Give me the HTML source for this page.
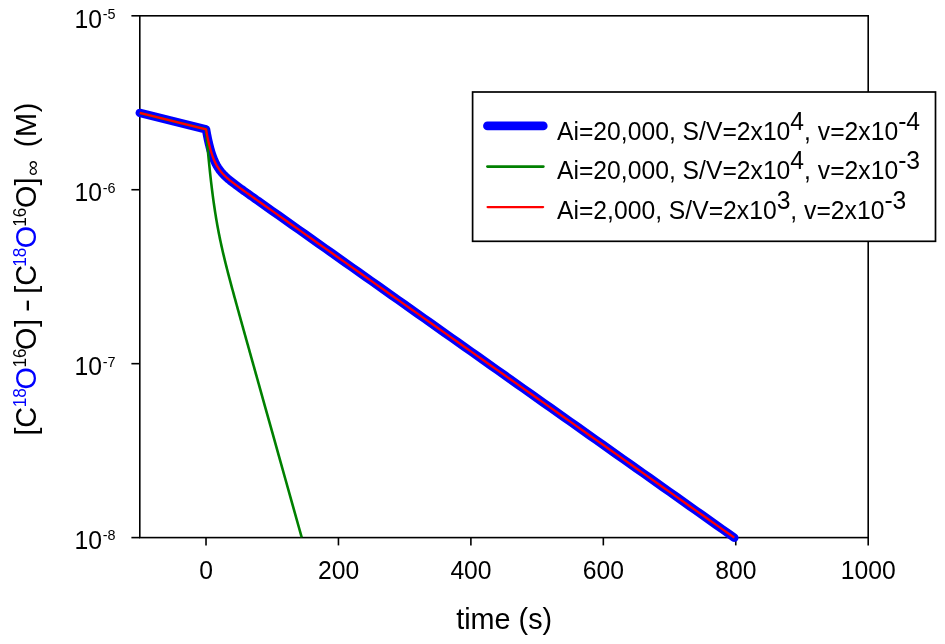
<!DOCTYPE html>
<html><head><meta charset="utf-8"><title>time (s)</title>
<style>html,body{margin:0;padding:0;background:#fff}svg{display:block}text{font-family:"Liberation Sans",sans-serif;fill:#000}</style></head>
<body>
<svg width="945" height="644" viewBox="0 0 945 644">
<rect x="0" y="0" width="945" height="644" fill="#fff"/>
<g stroke="#000" stroke-width="1.6" fill="none" stroke-linecap="butt">
<rect x="139.8" y="15.8" width="728.4" height="521.8"/>
<line x1="131.4" y1="15.80" x2="139.8" y2="15.80"/>
<line x1="131.4" y1="189.73" x2="139.8" y2="189.73"/>
<line x1="131.4" y1="363.67" x2="139.8" y2="363.67"/>
<line x1="131.4" y1="537.60" x2="139.8" y2="537.60"/>
<line x1="206.02" y1="537.6" x2="206.02" y2="545.4"/>
<line x1="338.45" y1="537.6" x2="338.45" y2="545.4"/>
<line x1="470.89" y1="537.6" x2="470.89" y2="545.4"/>
<line x1="603.33" y1="537.6" x2="603.33" y2="545.4"/>
<line x1="735.76" y1="537.6" x2="735.76" y2="545.4"/>
<line x1="868.20" y1="537.6" x2="868.20" y2="545.4"/>
</g>
<path d="M139.80 112.90 L206.02 129.30 L206.35 131.16 L206.68 132.96 L207.01 134.69 L207.34 136.37 L207.67 138.00 L208.00 139.56 L208.34 141.07 L208.67 142.53 L209.00 143.93 L209.33 145.29 L209.66 146.59 L209.99 147.85 L210.32 149.06 L210.65 150.23 L210.98 151.35 L211.32 152.43 L211.65 153.47 L211.98 154.48 L212.31 155.44 L212.64 156.37 L212.97 157.27 L213.30 158.13 L213.63 158.96 L213.96 159.77 L214.30 160.54 L214.63 161.28 L214.96 162.00 L215.29 162.70 L215.62 163.37 L215.95 164.01 L216.28 164.64 L216.61 165.24 L216.94 165.83 L217.28 166.40 L217.61 166.94 L217.94 167.48 L218.27 167.99 L218.60 168.49 L218.93 168.98 L219.26 169.45 L219.59 169.91 L219.92 170.35 L220.26 170.79 L220.59 171.21 L220.92 171.63 L221.25 172.03 L221.58 172.42 L221.91 172.81 L222.24 173.19 L222.57 173.55 L222.90 173.92 L223.23 174.27 L223.57 174.62 L223.90 174.96 L224.23 175.29 L224.56 175.62 L224.89 175.95 L225.22 176.26 L225.55 176.58 L225.88 176.89 L226.21 177.19 L226.55 177.49 L226.88 177.79 L227.21 178.09 L227.54 178.38 L227.87 178.66 L228.20 178.95 L228.53 179.23 L228.86 179.51 L229.19 179.78 L229.53 180.06 L229.86 180.33 L230.19 180.60 L230.52 180.86 L230.85 181.13 L231.18 181.39 L231.51 181.66 L231.84 181.92 L232.17 182.17 L232.51 182.43 L232.84 182.69 L233.17 182.94 L233.50 183.20 L233.83 183.45 L234.16 183.70 L234.49 183.95 L234.82 184.20 L235.15 184.45 L235.49 184.70 L235.82 184.94 L236.15 185.19 L236.48 185.43 L236.81 185.68 L237.14 185.92 L237.47 186.17 L237.80 186.41 L238.13 186.65 L238.47 186.90 L238.80 187.14 L239.13 187.38 L239.46 187.62 L239.79 187.86 L240.12 188.10 L240.45 188.34 L240.78 188.58 L241.11 188.82 L241.44 189.06 L241.78 189.30 L242.11 189.53 L242.44 189.77 L242.77 190.01 L243.10 190.25 L243.43 190.49 L243.76 190.72 L244.09 190.96 L244.42 191.20 L244.76 191.43 L245.09 191.67 L245.42 191.91 L245.75 192.14 L246.08 192.38 L246.41 192.61 L246.74 192.85 L247.07 193.09 L247.40 193.32 L247.74 193.56 L248.07 193.79 L248.40 194.03 L248.73 194.26 L249.06 194.50 L249.39 194.73 L249.72 194.97 L250.05 195.21 L250.38 195.44 L250.72 195.68 L251.05 195.91 L251.38 196.15 L251.71 196.38 L252.04 196.62 L252.37 196.85 L252.70 197.08 L253.03 197.32 L253.36 197.55 L253.70 197.79 L254.03 198.02 L254.36 198.26 L254.69 198.49 L255.02 198.73 L255.35 198.96 L255.68 199.20 L256.01 199.43 L256.34 199.67 L256.68 199.90 L257.01 200.13 L257.34 200.37 L257.67 200.60 L258.00 200.84 L258.33 201.07 L258.66 201.31 L258.99 201.54 L265.61 206.23 L272.24 210.91 L278.86 215.59 L285.48 220.28 L292.10 224.96 L298.72 229.64 L305.35 234.32 L311.97 239.01 L318.59 243.69 L325.21 248.37 L331.83 253.06 L338.45 257.74 L345.08 262.42 L351.70 267.10 L358.32 271.79 L364.94 276.47 L371.56 281.15 L378.19 285.84 L384.81 290.52 L391.43 295.20 L398.05 299.89 L404.67 304.57 L411.29 309.25 L417.92 313.93 L424.54 318.62 L431.16 323.30 L437.78 327.98 L444.40 332.67 L451.03 337.35 L457.65 342.03 L464.27 346.72 L470.89 351.40 L477.51 356.08 L484.13 360.76 L490.76 365.45 L497.38 370.13 L504.00 374.81 L510.62 379.50 L517.24 384.18 L523.87 388.86 L530.49 393.54 L537.11 398.23 L543.73 402.91 L550.35 407.59 L556.97 412.28 L563.60 416.96 L570.22 421.64 L576.84 426.33 L583.46 431.01 L590.08 435.69 L596.71 440.37 L603.33 445.06 L609.95 449.74 L616.57 454.42 L623.19 459.11 L629.81 463.79 L636.44 468.47 L643.06 473.15 L649.68 477.84 L656.30 482.52 L662.92 487.20 L669.55 491.89 L676.17 496.57 L682.79 501.25 L689.41 505.94 L696.03 510.62 L702.65 515.30 L709.28 519.98 L715.90 524.67 L722.52 529.35 L729.14 534.03 L734.30 537.68" fill="none" stroke="#0000ff" stroke-width="8.5" stroke-linecap="round" stroke-linejoin="round"/>
<path d="M139.80 112.90 L206.02 129.30 L206.35 133.29 L206.68 137.20 L207.01 141.04 L207.34 144.80 L207.67 148.48 L208.00 152.08 L208.34 155.60 L208.67 159.05 L209.00 162.42 L209.33 165.71 L209.66 168.92 L209.99 172.06 L210.32 175.12 L210.65 178.12 L210.98 181.03 L211.32 183.88 L211.65 186.66 L211.98 189.37 L212.31 192.01 L212.64 194.59 L212.97 197.10 L213.30 199.55 L213.63 201.95 L213.96 204.28 L214.30 206.56 L214.63 208.79 L214.96 210.96 L215.29 213.09 L215.62 215.17 L215.95 217.20 L216.28 219.18 L216.61 221.13 L216.94 223.03 L217.28 224.90 L217.61 226.73 L217.94 228.52 L218.27 230.28 L218.60 232.01 L218.93 233.70 L219.26 235.37 L219.59 237.01 L219.92 238.63 L220.26 240.22 L220.59 241.79 L220.92 243.33 L221.25 244.85 L221.58 246.36 L221.91 247.84 L222.24 249.31 L222.57 250.76 L222.90 252.19 L223.23 253.61 L223.57 255.02 L223.90 256.41 L224.23 257.79 L224.56 259.16 L224.89 260.51 L225.22 261.86 L225.55 263.20 L225.88 264.52 L226.21 265.84 L226.55 267.15 L226.88 268.45 L227.21 269.75 L227.54 271.04 L227.87 272.32 L228.20 273.59 L228.53 274.86 L228.86 276.13 L229.19 277.39 L229.53 278.64 L229.86 279.89 L230.19 281.14 L230.52 282.38 L230.85 283.62 L231.18 284.85 L231.51 286.08 L231.84 287.31 L232.17 288.54 L232.51 289.76 L232.84 290.98 L233.17 292.20 L233.50 293.41 L233.83 294.63 L234.16 295.84 L234.49 297.05 L234.82 298.26 L235.15 299.46 L235.49 300.67 L235.82 301.87 L236.15 303.07 L236.48 304.27 L236.81 305.47 L237.14 306.67 L237.47 307.87 L237.80 309.07 L238.13 310.26 L238.47 311.46 L238.80 312.65 L239.13 313.84 L239.46 315.04 L239.79 316.23 L240.12 317.42 L240.45 318.61 L240.78 319.80 L241.11 320.99 L241.44 322.18 L241.78 323.37 L242.11 324.56 L242.44 325.75 L242.77 326.93 L243.10 328.12 L243.43 329.31 L243.76 330.49 L244.09 331.68 L244.42 332.87 L244.76 334.05 L245.09 335.24 L245.42 336.42 L245.75 337.61 L246.08 338.79 L246.41 339.98 L246.74 341.16 L247.07 342.35 L247.40 343.53 L247.74 344.72 L248.07 345.90 L248.40 347.08 L248.73 348.27 L249.06 349.45 L249.39 350.63 L249.72 351.82 L250.05 353.00 L250.38 354.18 L250.72 355.37 L251.05 356.55 L251.38 357.73 L251.71 358.92 L252.04 360.10 L252.37 361.28 L252.70 362.46 L253.03 363.65 L253.36 364.83 L253.70 366.01 L254.03 367.20 L254.36 368.38 L254.69 369.56 L255.02 370.74 L255.35 371.93 L255.68 373.11 L256.01 374.29 L256.34 375.47 L256.68 376.66 L257.01 377.84 L257.34 379.02 L257.67 380.20 L258.00 381.38 L258.33 382.57 L258.66 383.75 L258.99 384.93 L265.61 408.57 L272.24 432.21 L278.86 455.85 L285.48 479.49 L292.10 503.13 L298.72 526.77 L301.70 537.40" fill="none" stroke="#008000" stroke-width="2.6" stroke-linecap="butt" stroke-linejoin="round"/>
<path d="M139.80 112.90 L206.02 129.30 L206.35 131.16 L206.68 132.96 L207.01 134.69 L207.34 136.37 L207.67 138.00 L208.00 139.56 L208.34 141.07 L208.67 142.53 L209.00 143.93 L209.33 145.29 L209.66 146.59 L209.99 147.85 L210.32 149.06 L210.65 150.23 L210.98 151.35 L211.32 152.43 L211.65 153.47 L211.98 154.48 L212.31 155.44 L212.64 156.37 L212.97 157.27 L213.30 158.13 L213.63 158.96 L213.96 159.77 L214.30 160.54 L214.63 161.28 L214.96 162.00 L215.29 162.70 L215.62 163.37 L215.95 164.01 L216.28 164.64 L216.61 165.24 L216.94 165.83 L217.28 166.40 L217.61 166.94 L217.94 167.48 L218.27 167.99 L218.60 168.49 L218.93 168.98 L219.26 169.45 L219.59 169.91 L219.92 170.35 L220.26 170.79 L220.59 171.21 L220.92 171.63 L221.25 172.03 L221.58 172.42 L221.91 172.81 L222.24 173.19 L222.57 173.55 L222.90 173.92 L223.23 174.27 L223.57 174.62 L223.90 174.96 L224.23 175.29 L224.56 175.62 L224.89 175.95 L225.22 176.26 L225.55 176.58 L225.88 176.89 L226.21 177.19 L226.55 177.49 L226.88 177.79 L227.21 178.09 L227.54 178.38 L227.87 178.66 L228.20 178.95 L228.53 179.23 L228.86 179.51 L229.19 179.78 L229.53 180.06 L229.86 180.33 L230.19 180.60 L230.52 180.86 L230.85 181.13 L231.18 181.39 L231.51 181.66 L231.84 181.92 L232.17 182.17 L232.51 182.43 L232.84 182.69 L233.17 182.94 L233.50 183.20 L233.83 183.45 L234.16 183.70 L234.49 183.95 L234.82 184.20 L235.15 184.45 L235.49 184.70 L235.82 184.94 L236.15 185.19 L236.48 185.43 L236.81 185.68 L237.14 185.92 L237.47 186.17 L237.80 186.41 L238.13 186.65 L238.47 186.90 L238.80 187.14 L239.13 187.38 L239.46 187.62 L239.79 187.86 L240.12 188.10 L240.45 188.34 L240.78 188.58 L241.11 188.82 L241.44 189.06 L241.78 189.30 L242.11 189.53 L242.44 189.77 L242.77 190.01 L243.10 190.25 L243.43 190.49 L243.76 190.72 L244.09 190.96 L244.42 191.20 L244.76 191.43 L245.09 191.67 L245.42 191.91 L245.75 192.14 L246.08 192.38 L246.41 192.61 L246.74 192.85 L247.07 193.09 L247.40 193.32 L247.74 193.56 L248.07 193.79 L248.40 194.03 L248.73 194.26 L249.06 194.50 L249.39 194.73 L249.72 194.97 L250.05 195.21 L250.38 195.44 L250.72 195.68 L251.05 195.91 L251.38 196.15 L251.71 196.38 L252.04 196.62 L252.37 196.85 L252.70 197.08 L253.03 197.32 L253.36 197.55 L253.70 197.79 L254.03 198.02 L254.36 198.26 L254.69 198.49 L255.02 198.73 L255.35 198.96 L255.68 199.20 L256.01 199.43 L256.34 199.67 L256.68 199.90 L257.01 200.13 L257.34 200.37 L257.67 200.60 L258.00 200.84 L258.33 201.07 L258.66 201.31 L258.99 201.54 L265.61 206.23 L272.24 210.91 L278.86 215.59 L285.48 220.28 L292.10 224.96 L298.72 229.64 L305.35 234.32 L311.97 239.01 L318.59 243.69 L325.21 248.37 L331.83 253.06 L338.45 257.74 L345.08 262.42 L351.70 267.10 L358.32 271.79 L364.94 276.47 L371.56 281.15 L378.19 285.84 L384.81 290.52 L391.43 295.20 L398.05 299.89 L404.67 304.57 L411.29 309.25 L417.92 313.93 L424.54 318.62 L431.16 323.30 L437.78 327.98 L444.40 332.67 L451.03 337.35 L457.65 342.03 L464.27 346.72 L470.89 351.40 L477.51 356.08 L484.13 360.76 L490.76 365.45 L497.38 370.13 L504.00 374.81 L510.62 379.50 L517.24 384.18 L523.87 388.86 L530.49 393.54 L537.11 398.23 L543.73 402.91 L550.35 407.59 L556.97 412.28 L563.60 416.96 L570.22 421.64 L576.84 426.33 L583.46 431.01 L590.08 435.69 L596.71 440.37 L603.33 445.06 L609.95 449.74 L616.57 454.42 L623.19 459.11 L629.81 463.79 L636.44 468.47 L643.06 473.15 L649.68 477.84 L656.30 482.52 L662.92 487.20 L669.55 491.89 L676.17 496.57 L682.79 501.25 L689.41 505.94 L696.03 510.62 L702.65 515.30 L709.28 519.98 L715.90 524.67 L722.52 529.35 L729.14 534.03 L734.30 537.68" fill="none" stroke="#ff0000" stroke-width="2.3" stroke-linecap="butt" stroke-linejoin="round"/>
<text transform="translate(74.6 27.50) scale(1 1.040)" font-size="24.7">10<tspan font-size="14.4" dy="-7.8" dx="0.6">-5</tspan></text>
<text transform="translate(74.6 201.43) scale(1 1.040)" font-size="24.7">10<tspan font-size="14.4" dy="-7.8" dx="0.6">-6</tspan></text>
<text transform="translate(74.6 375.37) scale(1 1.040)" font-size="24.7">10<tspan font-size="14.4" dy="-7.8" dx="0.6">-7</tspan></text>
<text transform="translate(74.6 548.50) scale(1 1.040)" font-size="24.7">10<tspan font-size="14.4" dy="-7.8" dx="0.6">-8</tspan></text>
<text transform="translate(206.12 579.4) scale(1 1.040)" font-size="24.7" text-anchor="middle">0</text>
<text transform="translate(338.55 579.4) scale(1 1.040)" font-size="24.7" text-anchor="middle">200</text>
<text transform="translate(470.99 579.4) scale(1 1.040)" font-size="24.7" text-anchor="middle">400</text>
<text transform="translate(603.43 579.4) scale(1 1.040)" font-size="24.7" text-anchor="middle">600</text>
<text transform="translate(735.86 579.4) scale(1 1.040)" font-size="24.7" text-anchor="middle">800</text>
<text transform="translate(868.30 579.4) scale(1 1.040)" font-size="24.7" text-anchor="middle">1000</text>
<text transform="translate(504.2 628.6) scale(1 1.040)" font-size="28.8" text-anchor="middle">time (s)</text>
<text transform="translate(35.80 0) rotate(-90) scale(1 1.040)" font-size="28.8" xml:space="preserve"><tspan x="-435.61" y="0.00" font-size="28.8">[</tspan><tspan x="-427.63" y="0.00" font-size="28.8">C</tspan><tspan x="-407.30" y="-9.52" font-size="17.2" style="fill:#0000ff">18</tspan><tspan x="-389.39" y="0.00" font-size="28.8" style="fill:#0000ff">O</tspan><tspan x="-367.59" y="-9.52" font-size="17.2">16</tspan><tspan x="-349.89" y="0.00" font-size="28.8">O</tspan><tspan x="-326.94" y="0.00" font-size="28.8">]</tspan> <tspan x="-312.21" y="0.00" font-size="28.8" textLength="13.43" lengthAdjust="spacingAndGlyphs">-</tspan> <tspan x="-293.76" y="0.00" font-size="28.8">[</tspan><tspan x="-285.73" y="0.00" font-size="28.8">C</tspan><tspan x="-266.85" y="-9.52" font-size="17.2" style="fill:#0000ff">18</tspan><tspan x="-248.19" y="0.00" font-size="28.8" style="fill:#0000ff">O</tspan><tspan x="-226.79" y="-9.52" font-size="17.2">16</tspan><tspan x="-208.09" y="0.00" font-size="28.8">O</tspan><tspan x="-185.49" y="0.00" font-size="28.8">]</tspan><tspan x="-176.02" y="3.27" font-size="19.0" textLength="15.85" lengthAdjust="spacingAndGlyphs">∞</tspan> <tspan x="-147.20" y="0.00" font-size="28.8">(</tspan><tspan x="-136.90" y="0.00" font-size="28.8">M</tspan><tspan x="-112.19" y="0.00" font-size="28.8">)</tspan></text>
<rect x="472.6" y="92" width="462.9" height="149.3" fill="#fff" stroke="#000" stroke-width="1.7"/>
<line x1="487.5" y1="125.9" x2="543.2" y2="125.9" stroke="#0000ff" stroke-width="8.8" stroke-linecap="round"/>
<line x1="487.4" y1="166.6" x2="543.4" y2="166.6" stroke="#008000" stroke-width="2.6" stroke-linecap="round"/>
<line x1="487.6" y1="207.1" x2="543.1" y2="207.1" stroke="#ff0000" stroke-width="2.3" stroke-linecap="round"/>
<text transform="translate(557 139.5) scale(1 1.040)" font-size="24.7">Ai=20,000, S/V=2x10<tspan dy="-9.4">4</tspan><tspan dy="9.4">, v=2x10</tspan><tspan dy="-9.4">-4</tspan></text>
<text transform="translate(557 179.2) scale(1 1.040)" font-size="24.7">Ai=20,000, S/V=2x10<tspan dy="-9.4">4</tspan><tspan dy="9.4">, v=2x10</tspan><tspan dy="-9.4">-3</tspan></text>
<text transform="translate(557 219.1) scale(1 1.040)" font-size="24.7">Ai=2,000, S/V=2x10<tspan dy="-9.4">3</tspan><tspan dy="9.4">, v=2x10</tspan><tspan dy="-9.4">-3</tspan></text>
</svg>
</body></html>
